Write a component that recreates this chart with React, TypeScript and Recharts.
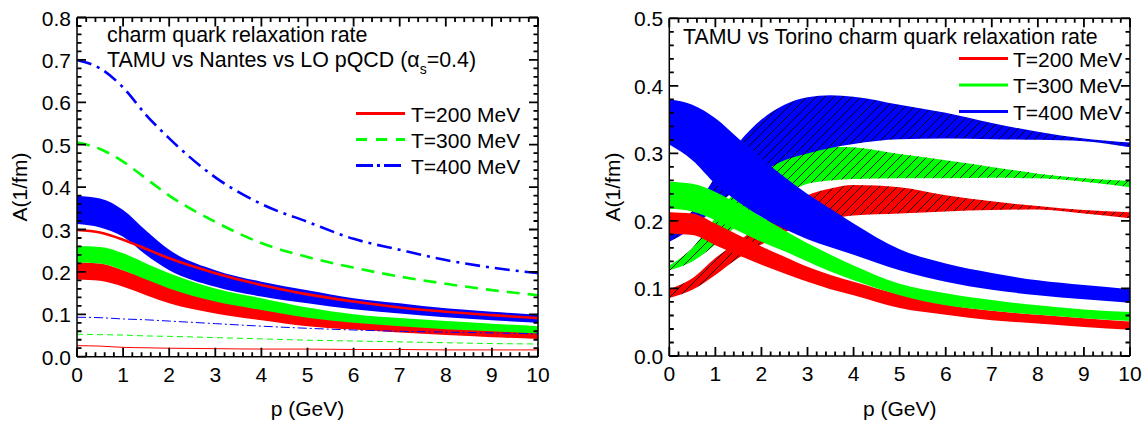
import React from 'react';
import { ComposedChart, Area, Line, XAxis, YAxis } from 'recharts';

const FONT = '"Liberation Sans", Arial, Helvetica, sans-serif';
const RED = '#ff0000';
const GREEN = '#00ff00';
const BLUE = '#0000ff';

// ---------- Left panel: TAMU vs Nantes vs LO pQCD ----------
const pLeft = [0, 0.5, 1, 1.5, 2, 3, 4, 5, 6, 7, 8, 9, 10];
// TAMU bands (low / high)
const tamuL200Lo = [0.182, 0.179, 0.165, 0.145, 0.126, 0.102, 0.086, 0.072, 0.064, 0.057, 0.051, 0.046, 0.042];
const tamuL200Hi = [0.222, 0.220, 0.204, 0.185, 0.165, 0.134, 0.114, 0.098, 0.088, 0.078, 0.069, 0.062, 0.056];
const tamuL300Lo = [0.222, 0.220, 0.204, 0.182, 0.161, 0.130, 0.110, 0.092, 0.080, 0.072, 0.065, 0.060, 0.055];
const tamuL300Hi = [0.261, 0.259, 0.244, 0.220, 0.197, 0.161, 0.138, 0.116, 0.100, 0.091, 0.084, 0.078, 0.072];
const tamuL400Lo = [0.313, 0.305, 0.283, 0.240, 0.204, 0.165, 0.142, 0.126, 0.112, 0.102, 0.093, 0.086, 0.080];
const tamuL400Hi = [0.379, 0.373, 0.346, 0.297, 0.252, 0.204, 0.177, 0.157, 0.138, 0.126, 0.114, 0.106, 0.099];
// Nantes (thick lines)
const nantes200 = [0.299, 0.293, 0.276, 0.254, 0.232, 0.197, 0.169, 0.147, 0.130, 0.116, 0.106, 0.098, 0.091];
const nantes300 = [0.505, 0.490, 0.460, 0.420, 0.380, 0.318, 0.268, 0.235, 0.210, 0.189, 0.172, 0.157, 0.145];
const nantes400 = [0.700, 0.680, 0.635, 0.570, 0.515, 0.423, 0.360, 0.318, 0.278, 0.252, 0.228, 0.210, 0.197];
// LO pQCD (thin lines)
const lo200 = [0.026, 0.025, 0.022, 0.021, 0.020, 0.019, 0.018, 0.018, 0.017, 0.017, 0.016, 0.016, 0.016];
const lo300 = [0.053, 0.052, 0.051, 0.049, 0.048, 0.045, 0.042, 0.039, 0.037, 0.035, 0.033, 0.031, 0.030];
const lo400 = [0.093, 0.092, 0.089, 0.087, 0.084, 0.078, 0.072, 0.067, 0.063, 0.060, 0.058, 0.056, 0.054];

// ---------- Right panel: TAMU vs Torino ----------
const pRight = [0, 0.5, 1, 1.5, 2, 2.5, 3, 3.5, 4, 5, 6, 7, 8, 9, 10];
const tamuR200Lo = [0.181, 0.179, 0.164, 0.149, 0.135, 0.122, 0.110, 0.099, 0.090, 0.071, 0.061, 0.053, 0.048, 0.043, 0.039];
const tamuR200Hi = [0.213, 0.211, 0.196, 0.179, 0.162, 0.147, 0.132, 0.120, 0.110, 0.091, 0.076, 0.067, 0.061, 0.056, 0.051];
const tamuR300Lo = [0.218, 0.214, 0.201, 0.185, 0.169, 0.155, 0.140, 0.125, 0.112, 0.090, 0.075, 0.067, 0.061, 0.056, 0.052];
const tamuR300Hi = [0.258, 0.255, 0.243, 0.225, 0.206, 0.186, 0.167, 0.150, 0.134, 0.107, 0.093, 0.083, 0.075, 0.069, 0.065];
const tamuR400Lo = [0.313, 0.290, 0.255, 0.228, 0.206, 0.188, 0.173, 0.161, 0.150, 0.127, 0.110, 0.098, 0.090, 0.084, 0.079];
const tamuR400Hi = [0.380, 0.372, 0.352, 0.322, 0.292, 0.265, 0.240, 0.218, 0.196, 0.158, 0.137, 0.123, 0.112, 0.105, 0.099];
const torino200Lo = [0.086, 0.098, 0.120, 0.145, 0.165, 0.183, 0.196, 0.203, 0.208, 0.211, 0.214, 0.216, 0.217, 0.211, 0.204];
const torino200Hi = [0.099, 0.115, 0.145, 0.170, 0.195, 0.220, 0.238, 0.248, 0.253, 0.250, 0.238, 0.229, 0.222, 0.216, 0.213];
const torino300Lo = [0.127, 0.140, 0.165, 0.195, 0.220, 0.240, 0.255, 0.260, 0.262, 0.263, 0.263, 0.264, 0.263, 0.258, 0.250];
const torino300Hi = [0.134, 0.160, 0.205, 0.250, 0.285, 0.300, 0.308, 0.310, 0.309, 0.299, 0.290, 0.280, 0.270, 0.263, 0.259];
const torino400Lo = [0.169, 0.190, 0.220, 0.250, 0.272, 0.290, 0.300, 0.308, 0.314, 0.321, 0.322, 0.321, 0.320, 0.318, 0.309];
const torino400Hi = [0.181, 0.215, 0.265, 0.315, 0.350, 0.372, 0.383, 0.386, 0.384, 0.372, 0.360, 0.345, 0.332, 0.322, 0.316];

const legendLabels = ['T=200 MeV', 'T=300 MeV', 'T=400 MeV'];
const xTicks = Array.from({ length: 51 }, (_, i) => Math.round(i * 2) / 10);
const yTicksLeft = Array.from({ length: 41 }, (_, i) => Math.round(i * 2) / 100);
const yTicksRight = Array.from({ length: 26 }, (_, i) => Math.round(i * 2) / 100);

const leftData = pLeft.map((p, i) => ({
  p,
  t200: [tamuL200Lo[i], tamuL200Hi[i]],
  t300: [tamuL300Lo[i], tamuL300Hi[i]],
  t400: [tamuL400Lo[i], tamuL400Hi[i]],
  n200: nantes200[i],
  n300: nantes300[i],
  n400: nantes400[i],
  l200: lo200[i],
  l300: lo300[i],
  l400: lo400[i],
}));

const rightData = pRight.map((p, i) => ({
  p,
  t200: [tamuR200Lo[i], tamuR200Hi[i]],
  t300: [tamuR300Lo[i], tamuR300Hi[i]],
  t400: [tamuR400Lo[i], tamuR400Hi[i]],
  o200: [torino200Lo[i], torino200Hi[i]],
  o300: [torino300Lo[i], torino300Hi[i]],
  o400: [torino400Lo[i], torino400Hi[i]],
  mid: torino200Lo[i],
}));

// ---------- panel geometry (page pixels) ----------
const H = 423;
const PANELS = [
  { left: 0, width: 560, plotL: 77, plotR: 538, plotT: 17.5, plotB: 356.7, yMax: 0.8, yTicks: yTicksLeft },
  { left: 580, width: 566, plotL: 669.3, plotR: 1130, plotT: 18.3, plotB: 356, yMax: 0.5, yTicks: yTicksRight },
];
const chartMargin = (g: any) => ({ top: g.plotT - 1, right: g.left + g.width - g.plotR - 1, bottom: 0, left: 0 });

const isMajor = (v: number, step: number) => Math.abs(v / step - Math.round(v / step)) < 1e-6;
const TICK_W = 1.8;
const MINOR = 4.5;
const MAJOR = 9;

const XLabel = (props: any) => {
  const x = Number(props.x);
  const y = Number(props.y);
  const v = props.payload ? props.payload.value : 0;
  if (!isMajor(v, 1)) return <g />;
  return (
    <text x={x} y={y + 25} textAnchor="middle" fontSize={21} fontFamily={FONT} fill="#000">
      {String(Math.round(v))}
    </text>
  );
};
const YLabel = (props: any) => {
  const x = Number(props.x);
  const y = Number(props.y);
  const v = props.payload ? props.payload.value : 0;
  if (!isMajor(v, 0.1)) return <g />;
  return (
    <text x={x - 6} y={y + 8} textAnchor="end" fontSize={21} fontFamily={FONT} fill="#000">
      {v.toFixed(1)}
    </text>
  );
};
const NoLabel = () => <g />;

const axisLine = { stroke: '#000', strokeWidth: 1.5 };

function axes(g: any) {
  const common = {
    type: 'number' as const,
    interval: 0 as const,
    tickSize: 0,
    tickMargin: 0,
    tickLine: false,
    axisLine,
  };
  const yDomain = [0, g.yMax];
  return [
    <XAxis key="xb" xAxisId="b" dataKey="p" domain={[0, 10]} ticks={xTicks} height={H - g.plotB} tick={XLabel} {...common} />,
    <XAxis key="xt" xAxisId="t" orientation="top" dataKey="p" domain={[0, 10]} ticks={[0, 10]} height={1} tick={NoLabel} {...common} />,
    <YAxis key="yl" yAxisId="l" domain={yDomain} ticks={g.yTicks} width={g.plotL - g.left} tick={YLabel} {...common} />,
    <YAxis key="yr" yAxisId="r" orientation="right" domain={yDomain} ticks={yDomain} width={1} tick={NoLabel} {...common} />,
  ];
}

const bandProps = {
  xAxisId: 'b',
  yAxisId: 'l',
  type: 'monotone' as const,
  stroke: 'none',
  fillOpacity: 1,
  isAnimationActive: false,
  dot: false,
  activeDot: false,
};

const lineProps = {
  xAxisId: 'b',
  yAxisId: 'l',
  type: 'monotone' as const,
  isAnimationActive: false,
  dot: false,
  activeDot: false,
};

function LeftChart() {
  const g = PANELS[0];
  return (
    <ComposedChart width={g.width} height={H} data={leftData} margin={chartMargin(g)}>
      {axes(g)}
      <Area {...bandProps} dataKey="t200" fill={RED} />
      <Area {...bandProps} dataKey="t300" fill={GREEN} />
      <Area {...bandProps} dataKey="t400" fill={BLUE} />
      <Line {...lineProps} dataKey="n200" stroke={RED} strokeWidth={2.6} />
      <Line {...lineProps} dataKey="n300" stroke={GREEN} strokeWidth={2.6} strokeDasharray="13 8" />
      <Line {...lineProps} dataKey="n400" stroke={BLUE} strokeWidth={2.6} strokeDasharray="15 6 3 6" />
      <Line {...lineProps} dataKey="l200" stroke={RED} strokeWidth={1} />
      <Line {...lineProps} dataKey="l300" stroke={GREEN} strokeWidth={1} strokeDasharray="6 4" />
      <Line {...lineProps} dataKey="l400" stroke={BLUE} strokeWidth={1} strokeDasharray="9 3 2 3" />
      <Line xAxisId="t" yAxisId="r" dataKey="l200" stroke="none" dot={false} activeDot={false} isAnimationActive={false} />
    </ComposedChart>
  );
}

function RightChart() {
  const g = PANELS[1];
  return (
    <ComposedChart width={g.width} height={H} data={rightData} margin={chartMargin(g)}>
      {axes(g)}
      <Area {...bandProps} dataKey="o200" fill="url(#hatchRed)" />
      <Area {...bandProps} dataKey="o300" fill="url(#hatchGreen)" />
      <Area {...bandProps} dataKey="o400" fill="url(#hatchBlue)" />
      <Area {...bandProps} dataKey="t200" fill={RED} />
      <Area {...bandProps} dataKey="t300" fill={GREEN} />
      <Area {...bandProps} dataKey="t400" fill={BLUE} />
      <Line xAxisId="t" yAxisId="r" dataKey="mid" stroke="none" dot={false} activeDot={false} isAnimationActive={false} />
    </ComposedChart>
  );
}

function Hatch({ id, color }: { id: string; color: string }) {
  return (
    <pattern id={id} patternUnits="userSpaceOnUse" width={9} height={9}>
      <rect width={9} height={9} fill={color} />
      <path d="M0,9 L9,0 M-2.25,2.25 L2.25,-2.25 M6.75,11.25 L11.25,6.75" stroke="#000" strokeWidth={0.9} />
    </pattern>
  );
}

// inward minor/major tick marks on all four sides of a panel frame
function FrameTicks({ g }: { g: any }) {
  let d = '';
  xTicks.forEach((t) => {
    const x = g.plotL + ((g.plotR - g.plotL) * t) / 10;
    const len = isMajor(t, 1) ? MAJOR : MINOR;
    d += `M${x},${g.plotB}V${g.plotB - len}M${x},${g.plotT}V${g.plotT + len}`;
  });
  g.yTicks.forEach((v: number) => {
    const y = g.plotB - ((g.plotB - g.plotT) * v) / g.yMax;
    const len = isMajor(v, 0.1) ? MAJOR : MINOR;
    d += `M${g.plotL},${y}H${g.plotL + len}M${g.plotR},${y}H${g.plotR - len}`;
  });
  return <path d={d} stroke="#000" strokeWidth={TICK_W} fill="none" />;
}

const T = (p: any) => <text fontFamily={FONT} fontSize={21} fill="#000" {...p} />;

function Overlay() {
  const colors = [RED, GREEN, BLUE];
  const leftDash = ['none', '11 9', '17 4 3 4'];
  return (
    <svg width={1146} height={H} style={{ position: 'absolute', left: 0, top: 0, pointerEvents: 'none' }}>
      <FrameTicks g={PANELS[0]} />
      <FrameTicks g={PANELS[1]} />
      <T x={107} y={41.7} fontSize={21.4}>charm quark relaxation rate</T>
      <T x={107} y={66.7} fontSize={21.4}>
        TAMU vs Nantes vs LO pQCD (α<tspan fontSize={14} dy={7}>s</tspan>
        <tspan dy={-7}>=0.4)</tspan>
      </T>
      {legendLabels.map((lab, i) => (
        <g key={'ll' + i}>
          <line x1={356} x2={405} y1={113.5 + i * 26} y2={113.5 + i * 26} stroke={colors[i]} strokeWidth={3} strokeDasharray={leftDash[i]} />
          <T x={411} y={121.7 + i * 26}>{lab}</T>
        </g>
      ))}
      <T x={307.5} y={416} textAnchor="middle">p (GeV)</T>
      <T transform="translate(26.7,187) rotate(-90)" textAnchor="middle">A(1/fm)</T>

      <T x={683} y={44.3} fontSize={21.3}>TAMU vs Torino charm quark relaxation rate</T>
      {legendLabels.map((lab, i) => (
        <g key={'rl' + i}>
          <line x1={959} x2={1008} y1={58.5 + i * 26.5} y2={58.5 + i * 26.5} stroke={colors[i]} strokeWidth={3} />
          <T x={1013} y={66.5 + i * 26.5}>{lab}</T>
        </g>
      ))}
      <T x={899.7} y={416} textAnchor="middle">p (GeV)</T>
      <T transform="translate(619.5,187) rotate(-90)" textAnchor="middle">A(1/fm)</T>
    </svg>
  );
}

export default function App() {
  return (
    <div style={{ position: 'absolute', left: 0, top: 0, width: 1146, height: H, background: '#fff', fontFamily: FONT }}>
      <svg width={0} height={0} style={{ position: 'absolute' }}>
        <defs>
          <Hatch id="hatchRed" color={RED} />
          <Hatch id="hatchGreen" color={GREEN} />
          <Hatch id="hatchBlue" color={BLUE} />
        </defs>
      </svg>
      <div style={{ position: 'absolute', left: PANELS[0].left, top: 0 }}>
        <LeftChart />
      </div>
      <div style={{ position: 'absolute', left: PANELS[1].left, top: 0 }}>
        <RightChart />
      </div>
      <Overlay />
    </div>
  );
}
